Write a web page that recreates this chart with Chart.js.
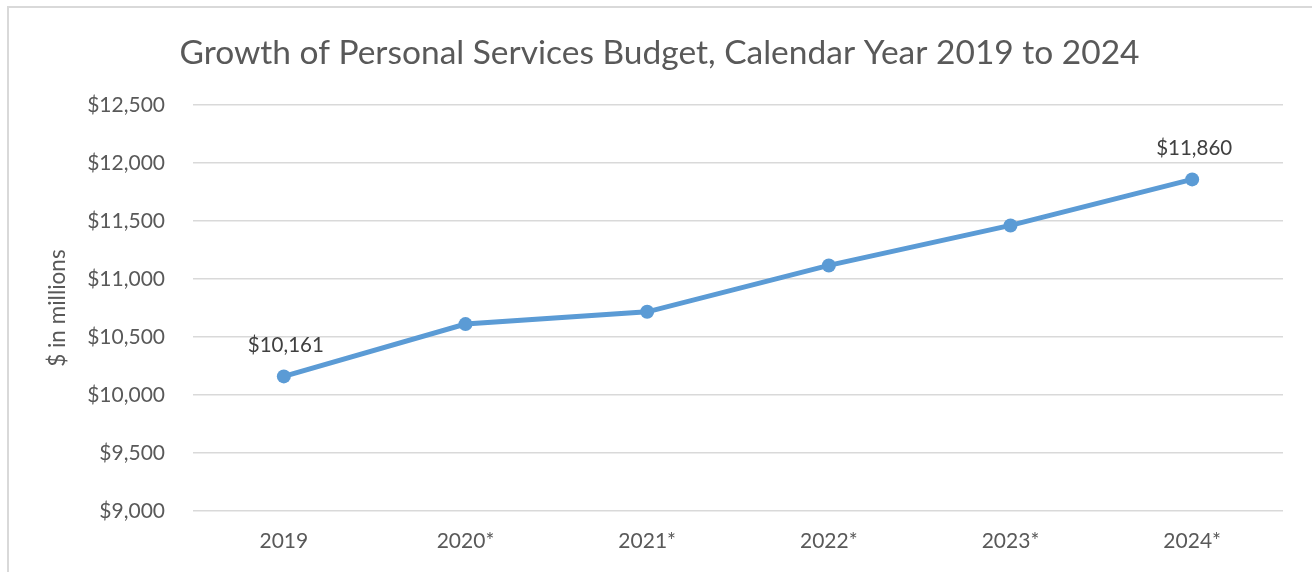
<!DOCTYPE html>
<html>
<head>
<meta charset="utf-8">
<script src="https://cdn.jsdelivr.net/npm/chart.js@4/dist/chart.umd.min.js"></script>
<style>
html,body{margin:0;padding:0;background:#fff;}
#wrap{position:relative;width:1312px;height:572px;overflow:hidden;}
#frame{position:absolute;left:7px;top:6px;width:1400px;height:700px;border-left:2px solid #d9d9d9;border-top:2px solid #d9d9d9;pointer-events:none;}
canvas{position:absolute;left:0;top:0;}
</style>
</head>
<body>
<div id="wrap">
<canvas id="c" width="1312" height="572"></canvas>
<div id="frame"></div>
</div>
<script>
const categories = ["2019", "2020*", "2021*", "2022*", "2023*", "2024*"];
const budgetValues = [10161, 10612, 10718, 11118, 11463, 11860];
const labeledIndices = [0, 5];
const yMin = 9000, yMax = 12500, yStep = 500;

const FONT = "Lato, 'Open Sans', sans-serif";
const TXT = "#595959";

const fmt = v => "$" + v.toLocaleString("en-US");

const dataLabelPlugin = {
  id: "dataLabels",
  afterDatasetsDraw(chart) {
    const ctx = chart.ctx;
    const meta = chart.getDatasetMeta(0);
    ctx.save();
    ctx.font = "20.5px " + FONT;
    ctx.fillStyle = "#404040";
    ctx.textAlign = "center";
    ctx.textBaseline = "middle";
    labeledIndices.forEach(i => {
      const el = meta.data[i];
      ctx.fillText(fmt(budgetValues[i]), el.x + 2, el.y - 31);
    });
    ctx.restore();
  }
};

new Chart(document.getElementById("c"), {
  type: "line",
  data: {
    labels: categories,
    datasets: [{
      data: budgetValues,
      borderColor: "#5B9BD5",
      backgroundColor: "#5B9BD5",
      borderWidth: 5,
      pointRadius: 7,
      pointHoverRadius: 7,
      pointBackgroundColor: "#5B9BD5",
      pointBorderWidth: 0,
      tension: 0,
      fill: false
    }]
  },
  options: {
    responsive: false,
    animation: false,
    devicePixelRatio: 1,
    layout: { padding: { left: 36, right: 29, top: 0, bottom: 0 } },
    plugins: {
      legend: { display: false },
      tooltip: { enabled: false },
      title: {
        display: true,
        text: "Growth of Personal Services Budget, Calendar Year 2019 to 2024",
        color: TXT,
        font: { family: FONT, size: 33.5, weight: "normal" },
        padding: { top: 33, bottom: 32 }
      }
    },
    scales: {
      x: {
        offset: true,
        grid: { display: false, drawTicks: false },
        border: { display: false },
        ticks: { color: TXT, font: { family: FONT, size: 21 }, padding: 18, maxRotation: 0 },
        afterFit(scale) { scale.height = 61; }
      },
      y: {
        min: yMin,
        max: yMax,
        grid: { color: "#d9d9d9", lineWidth: 1.5, drawTicks: false },
        border: { display: false },
        ticks: {
          stepSize: yStep,
          color: TXT,
          font: { family: FONT, size: 21 },
          padding: 28,
          callback: v => fmt(v)
        },
        title: {
          display: true,
          text: "$ in millions",
          color: TXT,
          font: { family: FONT, size: 22.5 },
          padding: { top: 8.5, bottom: 0 }
        },
        afterFit(scale) { scale.width = 157; }
      }
    }
  },
  plugins: [dataLabelPlugin]
});
</script>
</body>
</html>
